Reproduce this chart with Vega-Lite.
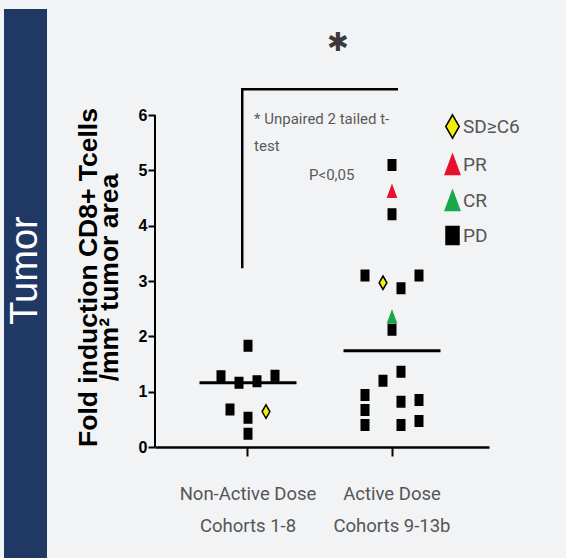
{
  "$schema": "https://vega.github.io/schema/vega-lite/v6.json",
  "background": "#f2f3f5",
  "padding": {"left": 4, "top": 9, "right": 100, "bottom": 0},
  "bounds": "flush",
  "spacing": 108,
  "hconcat": [
    {
      "width": 43,
      "height": 549,
      "view": {"fill": "#1f3864", "stroke": null},
      "data": {"values": [{"panel": "Tumor"}]},
      "mark": {"type": "text", "angle": 270, "font": "Liberation Sans", "fontSize": 38, "color": "#ffffff", "align": "center", "baseline": "middle", "dx": 13},
      "encoding": {"text": {"field": "panel"}}
    },
    {
      "width": 334,
      "height": 438,
      "view": {"stroke": null},
      "resolve": {"scale": {"x": "independent"}, "axis": {"x": "independent"}},
      "layer": [
        {
          "data": {"name": "tcells", "values": [
            {"cohort": "Non-Active Dose Cohorts 1-8", "slot": 0, "value": 1.83, "response": "PD"},
            {"cohort": "Non-Active Dose Cohorts 1-8", "slot": -3, "value": 1.28, "response": "PD"},
            {"cohort": "Non-Active Dose Cohorts 1-8", "slot": -1, "value": 1.16, "response": "PD"},
            {"cohort": "Non-Active Dose Cohorts 1-8", "slot": 1, "value": 1.19, "response": "PD"},
            {"cohort": "Non-Active Dose Cohorts 1-8", "slot": 3, "value": 1.29, "response": "PD"},
            {"cohort": "Non-Active Dose Cohorts 1-8", "slot": -2, "value": 0.68, "response": "PD"},
            {"cohort": "Non-Active Dose Cohorts 1-8", "slot": 2, "value": 0.64, "response": "SD≥C6"},
            {"cohort": "Non-Active Dose Cohorts 1-8", "slot": 0, "value": 0.53, "response": "PD"},
            {"cohort": "Non-Active Dose Cohorts 1-8", "slot": 0, "value": 0.24, "response": "PD"},
            {"cohort": "Active Dose Cohorts 9-13b", "slot": 0, "value": 5.10, "response": "PD"},
            {"cohort": "Active Dose Cohorts 9-13b", "slot": 0, "value": 4.62, "response": "PR"},
            {"cohort": "Active Dose Cohorts 9-13b", "slot": 0, "value": 4.21, "response": "PD"},
            {"cohort": "Active Dose Cohorts 9-13b", "slot": -3, "value": 3.10, "response": "PD"},
            {"cohort": "Active Dose Cohorts 9-13b", "slot": -1, "value": 2.97, "response": "SD≥C6"},
            {"cohort": "Active Dose Cohorts 9-13b", "slot": 1, "value": 2.87, "response": "PD"},
            {"cohort": "Active Dose Cohorts 9-13b", "slot": 3, "value": 3.10, "response": "PD"},
            {"cohort": "Active Dose Cohorts 9-13b", "slot": 0, "value": 2.35, "response": "CR"},
            {"cohort": "Active Dose Cohorts 9-13b", "slot": 0, "value": 2.12, "response": "PD"},
            {"cohort": "Active Dose Cohorts 9-13b", "slot": 1, "value": 1.36, "response": "PD"},
            {"cohort": "Active Dose Cohorts 9-13b", "slot": -1, "value": 1.20, "response": "PD"},
            {"cohort": "Active Dose Cohorts 9-13b", "slot": -3, "value": 0.94, "response": "PD"},
            {"cohort": "Active Dose Cohorts 9-13b", "slot": -3, "value": 0.67, "response": "PD"},
            {"cohort": "Active Dose Cohorts 9-13b", "slot": -3, "value": 0.40, "response": "PD"},
            {"cohort": "Active Dose Cohorts 9-13b", "slot": 1, "value": 0.82, "response": "PD"},
            {"cohort": "Active Dose Cohorts 9-13b", "slot": 3, "value": 0.85, "response": "PD"},
            {"cohort": "Active Dose Cohorts 9-13b", "slot": 1, "value": 0.40, "response": "PD"},
            {"cohort": "Active Dose Cohorts 9-13b", "slot": 3, "value": 0.47, "response": "PD"}
          ]},
          "mark": {"type": "point", "filled": true, "size": 100, "strokeWidth": 1.5, "opacity": 1},
          "encoding": {
            "x": {
              "field": "cohort", "type": "nominal",
              "scale": {"type": "band", "domain": ["Non-Active Dose Cohorts 1-8", "Active Dose Cohorts 9-13b"], "paddingInner": 0, "paddingOuter": 0.1597, "align": 0.4565},
              "axis": {
                "title": null, "grid": false, "labelAngle": 0,
                "labelExpr": "[slice(datum.label, 0, indexof(datum.label, ' Cohorts')), slice(datum.label, indexof(datum.label, 'Cohorts'))]",
                "labelFont": "Roboto", "labelFontSize": 18.5, "labelColor": "#555555",
                "labelLineHeight": 32, "labelPadding": 28, "labelOverlap": false,
                "domainColor": "#000000", "domainWidth": 2.5,
                "tickColor": "#000000", "tickWidth": 2, "tickSize": 9
              }
            },
            "xOffset": {
              "field": "slot", "type": "ordinal",
              "scale": {"type": "point", "domain": [-3, -2, -1, 0, 1, 2, 3], "range": [45, 99], "padding": 0}
            },
            "y": {
              "field": "value", "type": "quantitative",
              "scale": {"domain": [0, 7.92], "nice": false},
              "axis": {
                "values": [0, 1, 2, 3, 4, 5, 6], "grid": false, "domain": false,
                "title": ["Fold induction CD8+ Tcells", "/mm² tumor area"],
                "titleFont": "Liberation Sans", "titleFontWeight": "bold", "titleFontSize": 26.5,
                "titleLineHeight": 21, "titleColor": "#000000", "titlePadding": 15, "titleY": 268,
                "labelFont": "Liberation Sans", "labelFontWeight": "bold", "labelFontSize": 16,
                "labelColor": "#000000", "labelPadding": 1,
                "tickColor": "#000000", "tickWidth": 2, "tickSize": 7
              }
            },
            "shape": {
              "field": "response", "type": "nominal",
              "scale": {
                "domain": ["SD≥C6", "PR", "CR", "PD"],
                "range": [
                  "M0,-1.35L0.78,0L0,1.35L-0.78,0Z",
                  "M0,-1.15L0.85,1.15L-0.85,1.15Z",
                  "M0,-1.15L0.85,1.15L-0.85,1.15Z",
                  "M-0.75,-1.05H0.75V1.05H-0.75Z"
                ]
              },
              "legend": {
                "title": null, "orient": "none", "legendX": 439, "legendY": 108,
                "padding": 0, "symbolSize": 300, "symbolStrokeWidth": 1.5,
                "labelFont": "Roboto", "labelFontSize": 19, "labelColor": "#555555",
                "labelOffset": 1, "rowPadding": 9
              }
            },
            "fill": {
              "field": "response", "type": "nominal",
              "scale": {"domain": ["SD≥C6", "PR", "CR", "PD"], "range": ["#f2ee0a", "#e8112d", "#17a84b", "#000000"]},
              "legend": {
                "title": null, "orient": "none", "legendX": 439, "legendY": 108,
                "padding": 0, "symbolSize": 300, "symbolStrokeWidth": 1.5,
                "labelFont": "Roboto", "labelFontSize": 19, "labelColor": "#555555",
                "labelOffset": 1, "rowPadding": 9
              }
            },
            "stroke": {
              "field": "response", "type": "nominal",
              "scale": {"domain": ["SD≥C6", "PR", "CR", "PD"], "range": ["#000000", "#e8112d", "#17a84b", "#000000"]},
              "legend": {
                "title": null, "orient": "none", "legendX": 439, "legendY": 108,
                "padding": 0, "symbolSize": 300, "symbolStrokeWidth": 1.5,
                "labelFont": "Roboto", "labelFontSize": 19, "labelColor": "#555555",
                "labelOffset": 1, "rowPadding": 9
              }
            }
          }
        },
        {
          "data": {"name": "tcells"},
          "transform": [
            {"aggregate": [{"op": "median", "field": "value", "as": "median_value"}], "groupby": ["cohort"]}
          ],
          "mark": {"type": "tick", "orient": "horizontal", "size": 97, "thickness": 3, "color": "#000000", "opacity": 1},
          "encoding": {
            "x": {
              "field": "cohort", "type": "nominal", "axis": null,
              "scale": {"type": "band", "domain": ["Non-Active Dose Cohorts 1-8", "Active Dose Cohorts 9-13b"], "paddingInner": 0, "paddingOuter": 0.1597, "align": 0.4565}
            },
            "y": {"field": "median_value", "type": "quantitative"}
          }
        },
        {
          "layer": [
            {
              "data": {"values": [{}]},
              "mark": {"type": "rule", "color": "#000000", "strokeWidth": 2},
              "encoding": {
                "x": {"datum": 0.354, "type": "quantitative", "axis": null, "scale": {"domain": [0.354, 2.674], "nice": false, "zero": false}},
                "y": {"datum": 0, "type": "quantitative"},
                "y2": {"datum": 6}
              }
            },
            {
              "data": {"values": [
                {"bx": 0.96, "by": 3.23, "k": 1},
                {"bx": 0.96, "by": 6.47, "k": 2},
                {"bx": 2.042, "by": 6.47, "k": 3}
              ]},
              "mark": {"type": "line", "color": "#000000", "strokeWidth": 2.5, "strokeCap": "butt"},
              "encoding": {
                "x": {"field": "bx", "type": "quantitative", "axis": null, "scale": {"domain": [0.354, 2.674], "nice": false, "zero": false}},
                "y": {"field": "by", "type": "quantitative"},
                "order": {"field": "k"}
              }
            },
            {
              "data": {"values": [
                {"note": "* Unpaired 2 tailed t-", "tx": 1.042, "ty": 5.93},
                {"note": "test", "tx": 1.042, "ty": 5.44},
                {"note": "P<0,05", "tx": 1.424, "ty": 4.92}
              ]},
              "mark": {"type": "text", "align": "left", "baseline": "middle", "font": "Roboto", "fontSize": 15, "color": "#5a5a5a"},
              "encoding": {
                "x": {"field": "tx", "type": "quantitative", "axis": null, "scale": {"domain": [0.354, 2.674], "nice": false, "zero": false}},
                "y": {"field": "ty", "type": "quantitative"},
                "text": {"field": "note"}
              }
            },
            {
              "data": {"values": [{"sig": "✱", "tx": 1.625, "ty": 7.3}]},
              "mark": {"type": "text", "align": "center", "baseline": "middle", "font": "DejaVu Sans", "fontSize": 26, "color": "#3a3a3a"},
              "encoding": {
                "x": {"field": "tx", "type": "quantitative", "axis": null, "scale": {"domain": [0.354, 2.674], "nice": false, "zero": false}},
                "y": {"field": "ty", "type": "quantitative"},
                "text": {"field": "sig"}
              }
            }
          ]
        }
      ]
    }
  ]
}
